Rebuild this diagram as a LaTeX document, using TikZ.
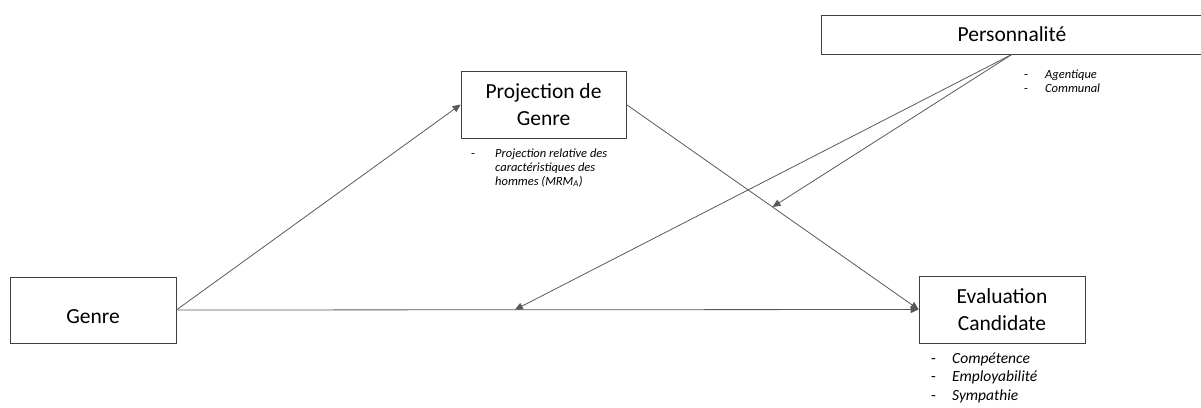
\documentclass[tikz,border=0pt]{standalone}
\usepackage{fontspec}
\setmainfont{Carlito}
\usetikzlibrary{positioning, arrows.meta, calc}

\begin{document}
\begin{tikzpicture}[x=1pt, y=-1pt,
    box/.style={draw=black!75, line width=0.7pt, align=center, font=\fontsize{21.5}{27}\selectfont, inner sep=0pt},
    arr/.style={-{Triangle[length=8pt, width=7pt]}, draw=black!65, line width=0.8pt},
    note/.style={anchor=north west, inner sep=0pt, align=left}]
    \useasboundingbox (0,0) rectangle (1201,407);
    % boxes
    \node[box, minimum width=166pt, minimum height=66pt]  (genre) at (93,310)    {\mbox{}\\Genre};
    \node[box, minimum width=165pt, minimum height=67pt]  (proj)  at (543.5,104.5) {Projection de\\Genre};
    \node[box, minimum width=166pt, minimum height=67pt]  (eval)  at (1002,309.5) {Evaluation\\Candidate};
    \node[box, minimum width=382pt, minimum height=39pt]  (pers)  at (1012,34.5)  {Personnalité};
    % lists
    \node[note, font=\fontsize{12.5}{14}\selectfont] (projnote) at (471,147) {%
      \begin{tabular}{@{}p{24pt}@{}l@{}}
        - & \textit{Projection relative des}\\
          & \textit{caractéristiques des}\\
          & \textit{hommes (MRM\textsubscript{A})}
      \end{tabular}};
    \node[note, font=\fontsize{12.5}{14}\selectfont] (persnote) at (1024,68) {%
      \begin{tabular}{@{}p{21pt}@{}l@{}}
        - & \textit{Agentique}\\
        - & \textit{Communal}
      \end{tabular}};
    \node[note, font=\fontsize{15.5}{18.5}\selectfont] (evalnote) at (931,350) {%
      \begin{tabular}{@{}p{21pt}@{}l@{}}
        - & \textit{Compétence}\\
        - & \textit{Employabilité}\\
        - & \textit{Sympathie}
      \end{tabular}};
    % paths
    \draw[arr] (genre.east) -- (proj.west);
    \draw[arr] (genre.east) -- (eval.west);
    \draw[arr] (proj.east) -- (eval.west);
    \coordinate (m1) at ($(proj.east)!0.5!(eval.west)$);
    \coordinate (m2) at ($(genre.east)!0.456!(eval.west)$);
    \draw[arr] (pers.south) -- (m1);
    \draw[arr] (pers.south) -- (m2);
\end{tikzpicture}
\end{document}
